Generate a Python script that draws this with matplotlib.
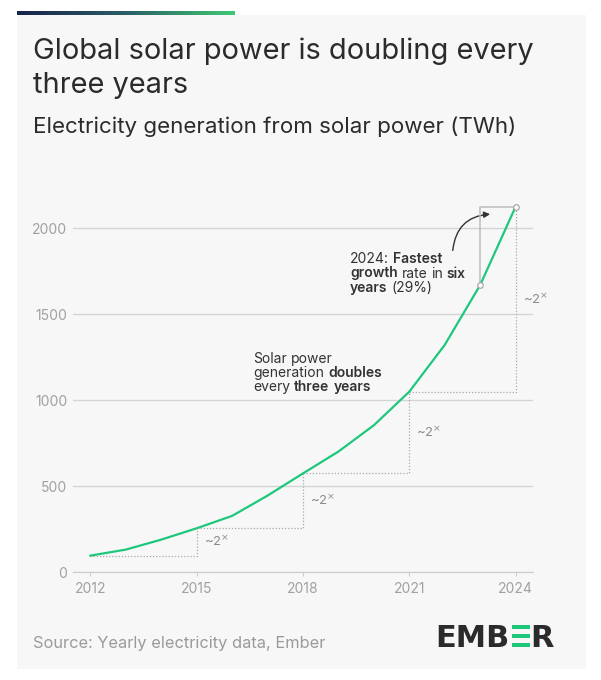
import matplotlib.pyplot as plt
import numpy as np
from matplotlib.patches import Rectangle, FancyArrowPatch
from matplotlib.colors import LinearSegmentedColormap

# Datos
years = list(range(2012, 2025))
solar_twh = [97, 132, 190, 256, 328, 446, 575, 702, 855, 1050, 1322, 1670, 2125]
step_years = [2012, 2015, 2018, 2021, 2024]
y_ticks = [0, 500, 1000, 1500, 2000]
x_ticks = [2012, 2015, 2018, 2021, 2024]

subtitle = "Electricity generation from solar power (TWh)"
source = "Source: Yearly electricity data, Ember"

W, H = 601, 680
plt.rcParams['font.family'] = ['Inter', 'DejaVu Sans']

fig = plt.figure(figsize=(W / 100, H / 100), dpi=100)
fig.patch.set_facecolor('white')


def fx(px):
    return px / W


def fy(py):
    return 1 - py / H


# Fondo de la tarjeta
fig.patches.append(Rectangle((fx(16.5), fy(669)), fx(586) - fx(16.5), fy(15.3) - fy(669),
                             transform=fig.transFigure, facecolor='#f7f7f7', edgecolor='none', zorder=-5))

# Barra degradada arriba
bar_ax = fig.add_axes([fx(16.5), fy(15.3), fx(234.5) - fx(16.5), fy(10.7) - fy(15.3)])
cmap = LinearSegmentedColormap.from_list('ember', ['#18234a', '#2a5f67', '#3ec873'])
bar_ax.imshow(np.linspace(0, 1, 200).reshape(1, -1), aspect='auto', cmap=cmap)
bar_ax.axis('off')

# Titulos
fig.text(fx(33), fy(59.3), "Global solar power is doubling every", fontsize=20.9, color='#2b2b2b', va='baseline')
fig.text(fx(33), fy(92.7), "three years", fontsize=20.9, color='#2b2b2b', va='baseline')
fig.text(fx(33), fy(133.3), subtitle, fontsize=16.1, color='#2b2b2b', va='baseline')
fig.text(fx(33), fy(648.3), source, fontsize=11.8, color='#9a9a9a', va='baseline')

# Grafico
ax = fig.add_axes([fx(72.7), fy(572.3), fx(533.3) - fx(72.7), fy(190.46) - fy(572.3)])
ax.set_facecolor('none')
ax.set_xlim(2011.5, 2024.5)
ax.set_ylim(0, 2220)
ax.set_yticks(y_ticks)
ax.set_xticks(x_ticks)
ax.grid(axis='y', color='#d4d4d4', lw=1)
ax.set_axisbelow(True)
for s in ['top', 'right', 'left']:
    ax.spines[s].set_visible(False)
ax.spines['bottom'].set_color('#cccccc')
ax.tick_params(axis='y', length=0, pad=4, labelsize=10, labelcolor='#a0a0a0')
ax.tick_params(axis='x', length=3, color='#cccccc', pad=4, labelsize=10, labelcolor='#a0a0a0')

ax.plot(years, solar_twh, color='#1fc77c', lw=1.6, zorder=4)

# Escalones de duplicacion
step_vals = [solar_twh[years.index(y)] for y in step_years]
for i in range(len(step_years) - 1):
    x0, x1 = step_years[i], step_years[i + 1]
    v0, v1 = step_vals[i], step_vals[i + 1]
    ax.plot([x0, x1, x1], [v0, v0, v1], color='#a8a8a8', lw=0.9, ls=(0, (1, 1.5)), zorder=2)
    ax.text(x1 + 0.2, (v0 + v1) / 2, r"~2$^{\times}$", fontsize=9.5, color='#8c8c8c', va='center', ha='left')

# Corchete 2023-2024
ax.plot([2023, 2023, 2024], [solar_twh[-2], solar_twh[-1], solar_twh[-1]], color='#bdbdbd', lw=1.1, zorder=3)
ax.plot([2023, 2024], solar_twh[-2:], 'o', ms=4, mfc='white', mec='#a8a8a8', mew=0.9, zorder=5)

arrow = FancyArrowPatch((2022.22, 1855), (2023.36, 2083), connectionstyle='arc3,rad=-0.45',
                        arrowstyle='-|>', mutation_scale=9, color='#333333', lw=1)
ax.add_patch(arrow)

renderer = fig.canvas.get_renderer()


def rich(x_px, y_px, lines, size, spacing):
    sp = fig.text(0, 0, "a a", fontsize=size)
    nsp = fig.text(0, 0, "aa", fontsize=size)
    space_w = sp.get_window_extent(renderer).width - nsp.get_window_extent(renderer).width
    sp.remove()
    nsp.remove()
    for i, line in enumerate(lines):
        cx = x_px
        for word, bold in line:
            t = fig.text(fx(cx), fy(y_px + i * spacing), word, fontsize=size, color='#333333',
                         fontweight='semibold' if bold else 'normal', va='baseline', ha='left')
            cx += t.get_window_extent(renderer).width + space_w


rich(350, 263.3, [[("2024:", 0), ("Fastest", 1)],
                  [("growth", 1), ("rate", 0), ("in", 0), ("six", 1)],
                  [("years", 1), ("(29%)", 0)]], 10, 14.2)
rich(253.3, 363.3, [[("Solar", 0), ("power", 0)],
                    [("generation", 0), ("doubles", 1)],
                    [("every", 0), ("three", 1), ("years", 1)]], 10, 13.9)

# Logo EMBER
fig.text(fx(435), fy(647.3), "EMB", fontsize=22, fontweight='bold', color='#2b2b2b', va='baseline', ha='left',
         family='DejaVu Sans')
fig.text(fx(553.3), fy(647.3), "R", fontsize=22, fontweight='bold', color='#2b2b2b', va='baseline', ha='right',
         family='DejaVu Sans')
for top in [624.5, 633.5, 642.5]:
    fig.patches.append(Rectangle((fx(512.3), fy(top + 4.6)), fx(530) - fx(512.3), fy(top) - fy(top + 4.6),
                                 transform=fig.transFigure, facecolor='#1fc77c', edgecolor='none'))

fig.savefig('out.png', dpi=100)
